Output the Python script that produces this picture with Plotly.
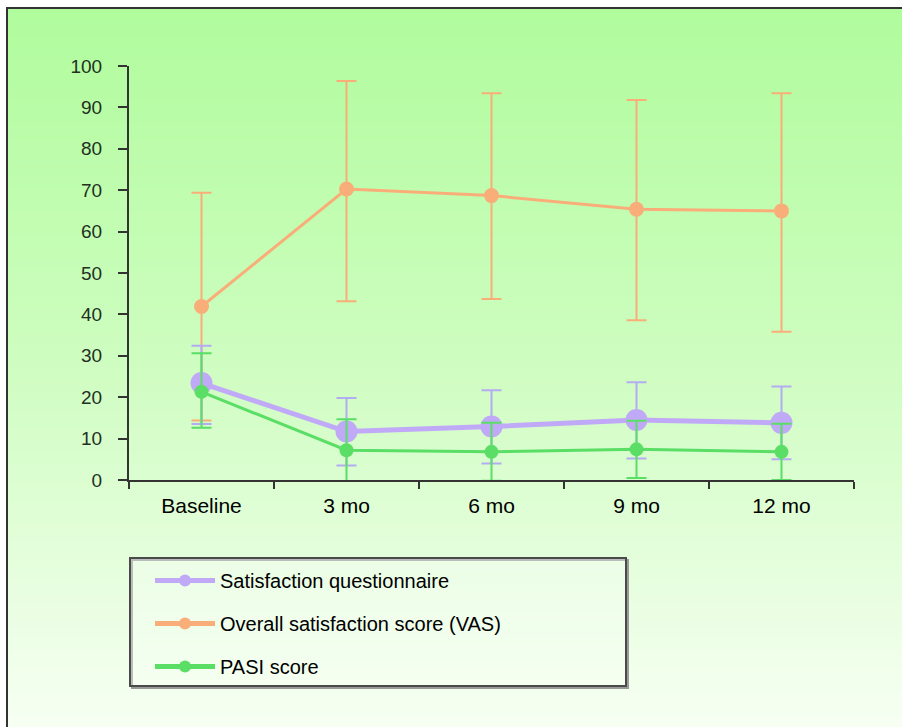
import plotly.graph_objects as go

# ---------------- data ----------------
categories = ["Baseline", "3 mo", "6 mo", "9 mo", "12 mo"]

sat_q_mean = [23.4, 11.7, 12.9, 14.5, 13.8]
sat_q_upper = [32.4, 19.8, 21.7, 23.6, 22.6]
sat_q_lower = [13.5, 3.5, 4.0, 5.2, 5.0]

vas_mean = [41.9, 70.3, 68.7, 65.4, 65.0]
vas_upper = [69.4, 96.4, 93.4, 91.8, 93.4]
vas_lower = [14.4, 43.2, 43.7, 38.6, 35.8]

pasi_mean = [21.3, 7.2, 6.8, 7.4, 6.8]
pasi_upper = [30.6, 14.7, 13.8, 14.3, 13.6]
pasi_lower = [12.6, -0.3, -0.2, 0.5, 0.0]

y_ticks = [0, 10, 20, 30, 40, 50, 60, 70, 80, 90, 100]

# ---------------- layout geometry (pixels) ----------------
W, H = 902, 727
L, R, T, B = 129, 48, 66, 247
PW, PH = W - L - R, H - T - B


def px(x):
    return (x - L) / PW


def py(y):
    return (H - B - y) / PH


PURPLE = "#c0aaf8"
PURPLE_ERR = "#b4acf2"
ORANGE = "#f9ae7a"
GREEN = "#5ade66"

fig = go.Figure()


def err(upper, mean, lower):
    return [u - m for u, m in zip(upper, mean)], [m - lo for m, lo in zip(mean, lower)]


vu, vl = err(vas_upper, vas_mean, vas_lower)
fig.add_trace(go.Scatter(
    x=categories, y=vas_mean, mode="lines+markers",
    name="Overall satisfaction score (VAS)", legendgroup="b", legendrank=2,
    line=dict(color=ORANGE, width=3),
    marker=dict(color=ORANGE, size=15),
    error_y=dict(type="data", symmetric=False, array=vu, arrayminus=vl,
                 color=ORANGE, thickness=2, width=10),
))

su, sl = err(sat_q_upper, sat_q_mean, sat_q_lower)
fig.add_trace(go.Scatter(
    x=categories, y=sat_q_mean, mode="lines+markers",
    name="Satisfaction questionnaire", legendgroup="a", legendrank=1,
    line=dict(color=PURPLE, width=5),
    marker=dict(color=PURPLE, size=22),
    error_y=dict(type="data", symmetric=False, array=su, arrayminus=sl,
                 color=PURPLE_ERR, thickness=2, width=10),
))

pu, pl = err(pasi_upper, pasi_mean, pasi_lower)
fig.add_trace(go.Scatter(
    x=categories, y=pasi_mean, mode="lines+markers",
    name="PASI score", legendgroup="c", legendrank=3,
    line=dict(color=GREEN, width=3),
    marker=dict(color=GREEN, size=14),
    error_y=dict(type="data", symmetric=False, array=pu, arrayminus=pl,
                 color=GREEN, thickness=2, width=10),
))

# ---------------- background gradient frame ----------------
stops = [(8, (176, 252, 156)), (360, (206, 253, 192)), (727, (247, 255, 243))]


def col_at(y):
    for (y0, c0), (y1, c1) in zip(stops[:-1], stops[1:]):
        if y <= y1:
            t = (y - y0) / (y1 - y0)
            return "rgb(%d,%d,%d)" % tuple(round(a + (b - a) * t) for a, b in zip(c0, c1))
    return "rgb(%d,%d,%d)" % stops[-1][1]


shapes = []
step = 6
y = 8
while y < H:
    shapes.append(dict(type="rect", xref="paper", yref="paper", layer="below",
                       x0=px(7), x1=px(W + 2), y0=py(y), y1=py(min(y + step + 1, H + 2)),
                       line=dict(width=0), fillcolor=col_at(y + step / 2)))
    y += step

# frame border
shapes.append(dict(type="rect", xref="paper", yref="paper", layer="below",
                   x0=px(7), x1=px(W + 20), y0=py(8), y1=py(H + 20),
                   line=dict(color="#333333", width=2), fillcolor="rgba(0,0,0,0)"))

# legend box with shadow
shapes.append(dict(type="rect", xref="paper", yref="paper", layer="below",
                   x0=px(132), x1=px(628), y0=py(560), y1=py(688),
                   line=dict(color="#9a9a9a", width=2), fillcolor="rgba(0,0,0,0)"))
shapes.append(dict(type="rect", xref="paper", yref="paper", layer="below",
                   x0=px(130), x1=px(626), y0=py(558), y1=py(686),
                   line=dict(color="#4a4a4a", width=2), fillcolor="rgba(250,255,248,0.35)"))

fig.update_layout(
    width=W, height=H,
    margin=dict(l=L, r=R, t=T, b=B, pad=0),
    paper_bgcolor="white",
    plot_bgcolor="rgba(0,0,0,0)",
    font=dict(family="Liberation Sans, Arial, sans-serif", size=20, color="black"),
    shapes=shapes,
    showlegend=True,
    legend=dict(
        x=px(150), xanchor="left", y=py(561), yanchor="top",
        bgcolor="rgba(0,0,0,0)", borderwidth=0,
        itemwidth=60, itemsizing="constant", tracegroupgap=14,
        font=dict(size=20, color="black"),
    ),
    xaxis=dict(
        type="category", range=[-0.5, 4.5], tickson="boundaries",
        ticks="outside", ticklen=7, tickwidth=2, tickcolor="#333333",
        showline=True, linecolor="#333333", linewidth=2,
        showgrid=False, zeroline=False, fixedrange=True,
        ticklabelstandoff=6,
        tickfont=dict(size=21, color="black"),
    ),
    yaxis=dict(
        range=[0, 100], tickvals=y_ticks, ticks="outside", ticklen=9,
        tickwidth=2, tickcolor="#333333",
        showline=True, linecolor="#333333", linewidth=2,
        showgrid=False, zeroline=False, fixedrange=True,
        ticklabelstandoff=12,
        tickfont=dict(size=19, color="#223022"),
    ),
)

fig.write_html("out.html")
